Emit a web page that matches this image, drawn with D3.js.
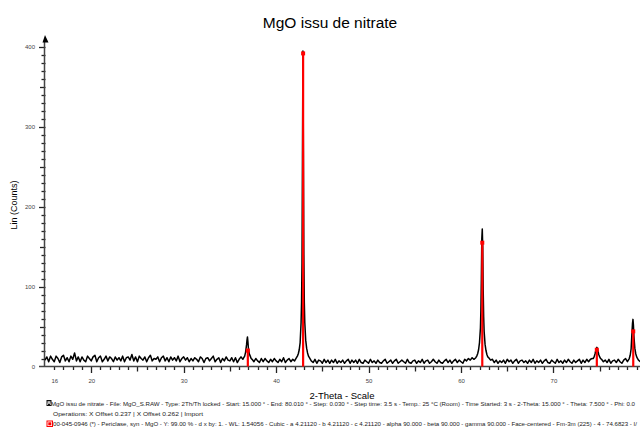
<!DOCTYPE html>
<html>
<head>
<meta charset="utf-8">
<script src="https://cdn.jsdelivr.net/npm/d3@7"></script>
<style>
  body { margin: 0; background: #fff; }
  svg { display: block; font-family: Arial, "Liberation Sans", sans-serif; }
</style>
</head>
<body>
<div id="chart"></div>
<script>
// scan: background read every 0.2 deg from 15.0, peaks read finer
var bgStart = 15.0, bgStep = 0.2;
var bgCounts = [
  8,12,6,13,9,6,13,10,5,12,14,7,11,6,13,9,17,7,12,6,
  12,8,6,13,10,7,12,14,6,11,13,6,9,13,7,12,10,6,12,8,
  11,7,13,6,11,12,8,15,7,12,6,13,10,8,12,6,11,14,7,10,
  9,12,6,11,13,7,11,6,12,8,11,7,13,6,10,12,8,11,6,10,
  7,11,9,6,12,10,5,10,11,7,10,13,6,9,11,5,10,7,12,8,
  7,11,6,11,5,9,12,9,14,30,22,12,9,6,10,7,5,10,6,10,
  7,5,9,6,10,7,5,9,6,11,5,8,10,6,9,7,10,12,14,20,
  40,20,14,10,7,5,9,4,8,7,4,9,5,8,4,8,5,9,4,7,
  5,8,4,7,9,4,8,5,8,4,9,5,4,8,6,4,9,5,7,4,
  8,5,4,7,9,4,6,8,4,7,9,4,6,8,6,4,9,5,4,7,
  8,4,7,5,9,4,7,8,4,6,9,6,4,8,5,4,7,9,5,8,
  4,7,9,5,8,6,4,9,7,10,8,11,9,12,14,20,40,30,16,12,
  11,8,9,5,8,4,7,5,8,4,9,6,8,4,7,9,4,7,8,5,
  7,4,8,5,9,4,7,5,8,4,7,9,5,4,8,6,4,9,5,7,
  4,8,5,9,6,4,8,5,7,9,4,8,5,9,6,9,10,14,20,16,
  12,9,6,8,5,9,4,7,8,5,9,6,4,8,10,6,9,12,30,20,
  12,8,6,10,7,9
];

var peak111 = [[36.5,11],[36.6,13],[36.7,18],[36.8,27],[36.85,33],[36.9,37],[36.95,31],[37.0,23],[37.1,16],[37.2,13],[37.3,10]];
var peak200 = [[42.2,11],[42.3,13],[42.4,16],[42.5,21],[42.6,30],[42.7,55],[42.75,80],[42.8,130],[42.85,260],[42.9,395],[42.95,270],[43.0,140],[43.05,80],[43.1,55],[43.2,33],[43.3,23],[43.4,17],[43.5,13],[43.6,11]];
var peak220 = [[61.6,11],[61.7,13],[61.8,16],[61.9,21],[62.0,30],[62.1,48],[62.15,70],[62.2,110],[62.25,160],[62.3,172],[62.35,150],[62.4,95],[62.45,62],[62.5,44],[62.6,28],[62.7,20],[62.8,15],[62.9,12]];
var peak311 = [[74.3,10],[74.4,12],[74.5,16],[74.6,21],[74.7,24],[74.8,20],[74.9,15],[75.0,12],[75.1,10]];
var peak222 = [[78.2,10],[78.3,14],[78.4,22],[78.5,44],[78.55,54],[78.6,59],[78.65,52],[78.7,38],[78.8,23],[78.9,16],[79.0,12],[79.1,10]];

// reference card 00-045-0946 periclase
var refAngles = [36.94, 42.92, 62.30, 74.69, 78.63];
var refCounts = [20, 392, 155, 21, 44];

var xTickLabels = [16, 20, 30, 40, 50, 60, 70];
var yTickLabels = [0, 100, 200, 300, 400];

var legendLines = [
  "MgO issu de nitrate - File: MgO_S.RAW - Type: 2Th/Th locked - Start: 15.000 \u00b0 - End: 80.010 \u00b0 - Step: 0.030 \u00b0 - Step time: 3.5 s - Temp.: 25 \u00b0C (Room) - Time Started: 3 s - 2-Theta: 15.000 \u00b0 - Theta: 7.500 \u00b0 - Phi: 0.0",
  "Operations: X Offset 0.237 | X Offset 0.262 | Import",
  "00-045-0946 (*) - Periclase, syn - MgO - Y: 99.00 % - d x by: 1. - WL: 1.54056 - Cubic - a 4.21120 - b 4.21120 - c 4.21120 - alpha 90.000 - beta 90.000 - gamma 90.000 - Face-centered - Fm-3m (225) - 4 - 74.6823 - I/"
];

(function() {
  var width = 640, height = 434;
  var axisColor = "#222";

  var svg = d3.select("#chart")
    .append("svg")
    .attr("width", width)
    .attr("height", height);

  var x = d3.scaleLinear().domain([15, 80.01]).range([45, 646]);
  var y = d3.scaleLinear().domain([0, 400]).range([366.5, 47]);

  // merge background with the peak profiles
  var peaks = [peak111, peak200, peak220, peak311, peak222];
  var scan = [];
  bgCounts.forEach(function(c, i) {
    var a = bgStart + i * bgStep;
    var inside = peaks.some(function(p) {
      return a > p[0][0] - 0.05 && a < p[p.length - 1][0] + 0.05;
    });
    if (!inside) scan.push([a, c]);
  });
  peaks.forEach(function(p) { scan = scan.concat(p); });
  scan.sort(function(a, b) { return a[0] - b[0]; });

  // title
  svg.append("text")
    .attr("x", 330).attr("y", 28)
    .attr("text-anchor", "middle")
    .style("font-size", "15.5px")
    .text("MgO issu de nitrate");

  // x ticks: every degree, longer at 5s and 10s
  var xt = d3.range(16, 80);
  svg.selectAll(".xtick")
    .data(xt)
    .enter().append("line")
    .attr("class", "xtick")
    .attr("x1", function(d) { return Math.round(x(d)) + 0.5; })
    .attr("x2", function(d) { return Math.round(x(d)) + 0.5; })
    .attr("y1", y(0))
    .attr("y2", function(d) { return y(0) + (d % 10 == 0 ? 6.5 : d % 5 == 0 ? 5 : 3.5); })
    .attr("stroke", axisColor)
    .attr("stroke-width", 1.3);

  var xl = svg.append("g")
    .attr("transform", "translate(0," + y(0) + ")")
    .call(d3.axisBottom(x).tickValues(xTickLabels).tickSize(0).tickPadding(12));
  xl.select(".domain").remove();
  xl.selectAll("text").style("font-size", "6px").attr("fill", "#444");

  // y ticks: every 10 counts, longer at 50s and 100s
  var yt = d3.range(10, 410, 10);
  svg.selectAll(".ytick")
    .data(yt)
    .enter().append("line")
    .attr("class", "ytick")
    .attr("x1", function(d) { return d % 100 == 0 ? 39 : d % 50 == 0 ? 40 : 41.5; })
    .attr("x2", 45.5)
    .attr("y1", function(d) { return Math.round(y(d)) + 0.5; })
    .attr("y2", function(d) { return Math.round(y(d)) + 0.5; })
    .attr("stroke", axisColor)
    .attr("stroke-width", 1.3);

  var yl = svg.append("g")
    .attr("transform", "translate(44.5,0)")
    .call(d3.axisLeft(y).tickValues(yTickLabels).tickSize(0).tickPadding(9.5));
  yl.select(".domain").remove();
  yl.selectAll("text").style("font-size", "6px").attr("fill", "#444");

  // axis lines
  svg.append("line")
    .attr("x1", 39).attr("x2", width)
    .attr("y1", y(0)).attr("y2", y(0))
    .attr("stroke", "#444").attr("stroke-width", 1.5);
  svg.append("line")
    .attr("x1", 44.5).attr("x2", 44.5)
    .attr("y1", y(0)).attr("y2", 40)
    .attr("stroke", "#444").attr("stroke-width", 1.5);
  svg.append("path")
    .attr("d", "M45,35 L42.5,42.5 L48.5,42.5 Z")
    .attr("fill", "#000");

  // axis titles
  svg.append("text")
    .attr("x", 342).attr("y", 399)
    .attr("text-anchor", "middle")
    .style("font-size", "9.5px")
    .text("2-Theta - Scale");

  svg.append("text")
    .attr("transform", "translate(17,205) rotate(-90)")
    .attr("text-anchor", "middle")
    .style("font-size", "9px")
    .text("Lin (Counts)");

  // scan line
  var line = d3.line()
    .x(function(d) { return x(d[0]); })
    .y(function(d) { return y(d[1]); });

  svg.append("path")
    .datum(scan)
    .attr("d", line)
    .attr("fill", "none")
    .attr("stroke", "#000")
    .attr("stroke-width", 1.5)
    .attr("stroke-linejoin", "round");

  // reference sticks
  var refs = refAngles.map(function(a, i) { return { a: a, c: refCounts[i] }; });

  svg.selectAll(".stick")
    .data(refs)
    .enter().append("line")
    .attr("class", "stick")
    .attr("x1", function(d) { return x(d.a); })
    .attr("x2", function(d) { return x(d.a); })
    .attr("y1", y(0))
    .attr("y2", function(d) { return y(d.c); })
    .attr("stroke", "#ff0000")
    .attr("stroke-width", 2.2);

  svg.selectAll(".cap")
    .data(refs)
    .enter().append("rect")
    .attr("class", "cap")
    .attr("x", function(d) { return x(d.a) - 2; })
    .attr("y", function(d) { return y(d.c) - 2; })
    .attr("width", 4).attr("height", 4)
    .attr("fill", "#ff0000");

  // legend
  var leg = svg.append("g").style("font-size", "5.6px").attr("fill", "#222");

  leg.append("rect").attr("x", 46.5).attr("y", 400).attr("width", 5).attr("height", 6).attr("fill", "#111");
  leg.append("path")
    .attr("d", "M47.3,405 L48.2,401.2 L49,404 L49.8,401.2 L50.7,405")
    .attr("fill", "none").attr("stroke", "#fff").attr("stroke-width", 0.7);

  leg.append("rect").attr("x", 47).attr("y", 421).attr("width", 5.5).attr("height", 5.5)
    .attr("fill", "#fff").attr("stroke", "#ff0000").attr("stroke-width", 1);
  leg.append("rect").attr("x", 48.3).attr("y", 422.3).attr("width", 3).attr("height", 3).attr("fill", "#ff0000");

  leg.append("text").attr("x", 51).attr("y", 405.5)
    .attr("textLength", 584).attr("lengthAdjust", "spacingAndGlyphs")
    .text(legendLines[0]);
  leg.append("text").attr("x", 53).attr("y", 416)
    .attr("textLength", 150).attr("lengthAdjust", "spacingAndGlyphs")
    .text(legendLines[1]);
  leg.append("text").attr("x", 53).attr("y", 426)
    .attr("textLength", 584).attr("lengthAdjust", "spacingAndGlyphs")
    .text(legendLines[2]);
})();
</script>
</body>
</html>
